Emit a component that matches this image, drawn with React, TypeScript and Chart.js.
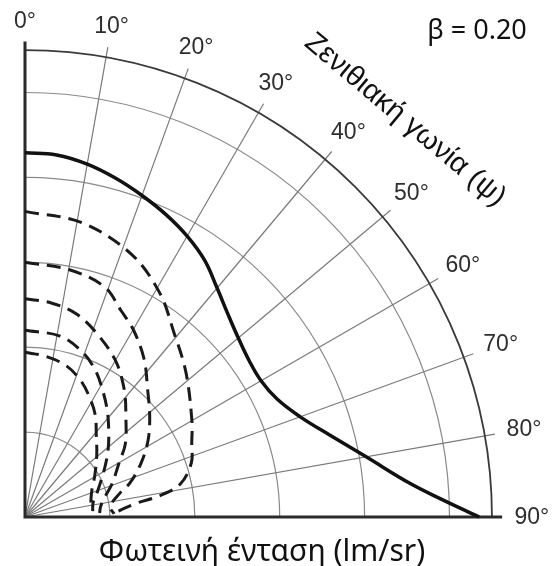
import React, { useEffect, useRef } from "react";
import { Chart, registerables } from "chart.js";

Chart.register(...registerables);

// ---- data ----
const ringValues = [1, 2, 3, 4, 5];
const outerRingValue = 5.5;
const spokeAngles = [10, 20, 30, 40, 50, 60, 70, 80];
const angleTickValues = [0, 10, 20, 30, 40, 50, 60, 70, 80, 90];
const angleTickLabels = ["0°", "10°", "20°", "30°", "40°", "50°", "60°", "70°", "80°", "90°"];

const solidAngles = [0, 5, 10, 15, 20, 25, 30, 35, 40, 45, 50, 55, 60, 65, 70, 75, 80, 85, 87.5, 90];
const solidIntensity = [4.29, 4.28, 4.22, 4.13, 4.03, 3.93, 3.82, 3.69, 3.52, 3.38, 3.28, 3.22, 3.21, 3.28, 3.45, 3.72, 4.08, 4.55, 4.9, 5.35];

const dashed1Angles = [0, 11, 22, 31, 39, 48, 60, 66, 72, 78, 81, 83, 87, 89];
const dashed1Intensity = [3.6, 3.53, 3.34, 3.08, 2.79, 2.55, 2.27, 2.15, 2.06, 1.87, 1.61, 1.32, 1.08, 1.06];

const dashed2Angles = [0, 10, 19, 25, 30, 37, 44, 51, 58, 65, 72, 76, 83, 88];
const dashed2Intensity = [3.0, 2.96, 2.87, 2.68, 2.55, 2.33, 2.08, 1.89, 1.71, 1.51, 1.3, 1.15, 1.01, 1.05];

const dashed3Angles = [0, 7, 14, 21, 30, 38, 45, 54, 60, 69, 76, 82, 87];
const dashed3Intensity = [2.57, 2.54, 2.47, 2.33, 2.13, 1.9, 1.68, 1.46, 1.28, 1.1, 0.97, 0.9, 0.88];

const dashed4Angles = [0, 11, 19, 25.5, 31.5, 37.5, 44, 51, 57, 64, 71, 78, 85];
const dashed4Intensity = [2.2, 2.17, 2.06, 1.92, 1.75, 1.59, 1.42, 1.26, 1.13, 1.0, 0.9, 0.82, 0.8];

const dashed5Angles = [0, 7, 15, 22, 28, 34.5, 41, 49, 59, 68, 76, 84];
const dashed5Intensity = [1.94, 1.91, 1.85, 1.74, 1.61, 1.46, 1.28, 1.12, 0.96, 0.85, 0.8, 0.78];

const betaLabel = "β = 0.20";
const angleTitle = "Ζενιθιακή γωνία (ψ)";
const intensityTitle = "Φωτεινή ένταση (lm/sr)";

// ---- helpers ----
const toXY = (angles: number[], values: number[]) =>
  angles.map((a, i) => {
    const t = (a * Math.PI) / 180;
    return { x: values[i] * Math.sin(t), y: values[i] * Math.cos(t) };
  });

const W = 553;
const H = 566;
const UNIT = 84.9;
const ORIGIN_X = 25;
const ORIGIN_Y = 517;
const SPAN = 6;

const polarGrid = {
  id: "polarGrid",
  beforeDatasetsDraw(chart: any) {
    const { ctx, scales } = chart;
    const xs = scales.x;
    const ys = scales.y;
    const ox = xs.getPixelForValue(0);
    const oy = ys.getPixelForValue(0);
    const pr = (r: number) => xs.getPixelForValue(r) - ox;
    const pt = (r: number, deg: number) => {
      const t = (deg * Math.PI) / 180;
      return [xs.getPixelForValue(r * Math.sin(t)), ys.getPixelForValue(r * Math.cos(t))];
    };
    ctx.save();
    ctx.strokeStyle = "#8a8a8a";
    ctx.lineWidth = 1.2;
    ringValues.forEach((r) => {
      ctx.beginPath();
      ctx.arc(ox, oy, pr(r), -Math.PI / 2, 0);
      ctx.stroke();
    });
    ctx.strokeStyle = "#7a7a7a";
    ctx.lineWidth = 1.2;
    spokeAngles.forEach((a) => {
      const [x1, y1] = pt(5.62, a);
      ctx.beginPath();
      ctx.moveTo(ox, oy);
      ctx.lineTo(x1, y1);
      ctx.stroke();
    });
    ctx.strokeStyle = "#3a3a3a";
    ctx.lineWidth = 1.8;
    ctx.beginPath();
    ctx.arc(ox, oy, pr(outerRingValue), -Math.PI / 2, 0);
    ctx.stroke();
    ctx.strokeStyle = "#2a2a2a";
    ctx.lineWidth = 3;
    const [vx, vy] = pt(5.6, 0);
    const [hx, hy] = pt(5.62, 90);
    ctx.beginPath();
    ctx.moveTo(vx, vy);
    ctx.lineTo(ox, oy);
    ctx.lineTo(hx, hy);
    ctx.stroke();
    ctx.restore();
  },
  afterDraw(chart: any) {
    const { ctx, scales } = chart;
    const xs = scales.x;
    const ys = scales.y;
    const pt = (r: number, deg: number) => {
      const t = (deg * Math.PI) / 180;
      return [xs.getPixelForValue(r * Math.sin(t)), ys.getPixelForValue(r * Math.cos(t))];
    };
    ctx.save();
    ctx.fillStyle = "#2e2e2e";
    ctx.font = "23px 'Liberation Sans', Arial, sans-serif";
    ctx.textAlign = "center";
    ctx.textBaseline = "middle";
    angleTickValues.forEach((a, i) => {
      const r = 5.85 + 0.12 * Math.sin((a * Math.PI) / 180);
      const [x, y] = pt(r, a);
      ctx.fillText(angleTickLabels[i], x, y + 1);
    });
    ctx.fillStyle = "#111111";
    ctx.font = "29px 'Liberation Sans', Arial, sans-serif";
    ctx.save();
    ctx.translate(405, 120);
    ctx.rotate((40 * Math.PI) / 180);
    ctx.fillText(angleTitle, 0, 0);
    ctx.restore();
    ctx.font = "27px 'Noto Sans', sans-serif";
    ctx.fillText(betaLabel, 477, 31);
    ctx.font = "30px 'Noto Sans', sans-serif";
    ctx.fillText(intensityTitle, 262, 552);
    ctx.restore();
  },
};

export default function App() {
  const ref = useRef<HTMLCanvasElement | null>(null);
  useEffect(() => {
    if (!ref.current) return;
    const solidStyle = { borderColor: "#111111", borderWidth: 3.5, tension: 0.4 };
    const dashStyle = { borderColor: "#1a1a1a", borderWidth: 3, borderDash: [14, 8], tension: 0.35 };
    const common = { showLine: true, pointRadius: 0, clip: false as any, fill: false };
    const chart = new Chart(ref.current, {
      type: "scatter",
      data: {
        datasets: [
          { ...common, ...solidStyle, data: toXY(solidAngles, solidIntensity) },
          { ...common, ...dashStyle, data: toXY(dashed1Angles, dashed1Intensity) },
          { ...common, ...dashStyle, data: toXY(dashed2Angles, dashed2Intensity) },
          { ...common, ...dashStyle, data: toXY(dashed3Angles, dashed3Intensity) },
          { ...common, ...dashStyle, data: toXY(dashed4Angles, dashed4Intensity) },
          { ...common, ...dashStyle, data: toXY(dashed5Angles, dashed5Intensity) },
        ] as any,
      },
      options: {
        animation: false,
        responsive: false,
        maintainAspectRatio: false,
        devicePixelRatio: 1,
        layout: {
          padding: {
            left: ORIGIN_X,
            right: W - ORIGIN_X - SPAN * UNIT,
            top: ORIGIN_Y - SPAN * UNIT,
            bottom: H - ORIGIN_Y,
          },
        },
        scales: {
          x: { type: "linear", min: 0, max: SPAN, display: false },
          y: { type: "linear", min: 0, max: SPAN, display: false },
        },
        plugins: { legend: { display: false }, tooltip: { enabled: false } },
      },
      plugins: [polarGrid],
    });
    return () => chart.destroy();
  }, []);
  return (
    <div style={{ position: "absolute", left: 0, top: 0, width: W, height: H, background: "#ffffff" }}>
      <canvas ref={ref} width={W} height={H} style={{ display: "block", width: W, height: H }} />
    </div>
  );
}
